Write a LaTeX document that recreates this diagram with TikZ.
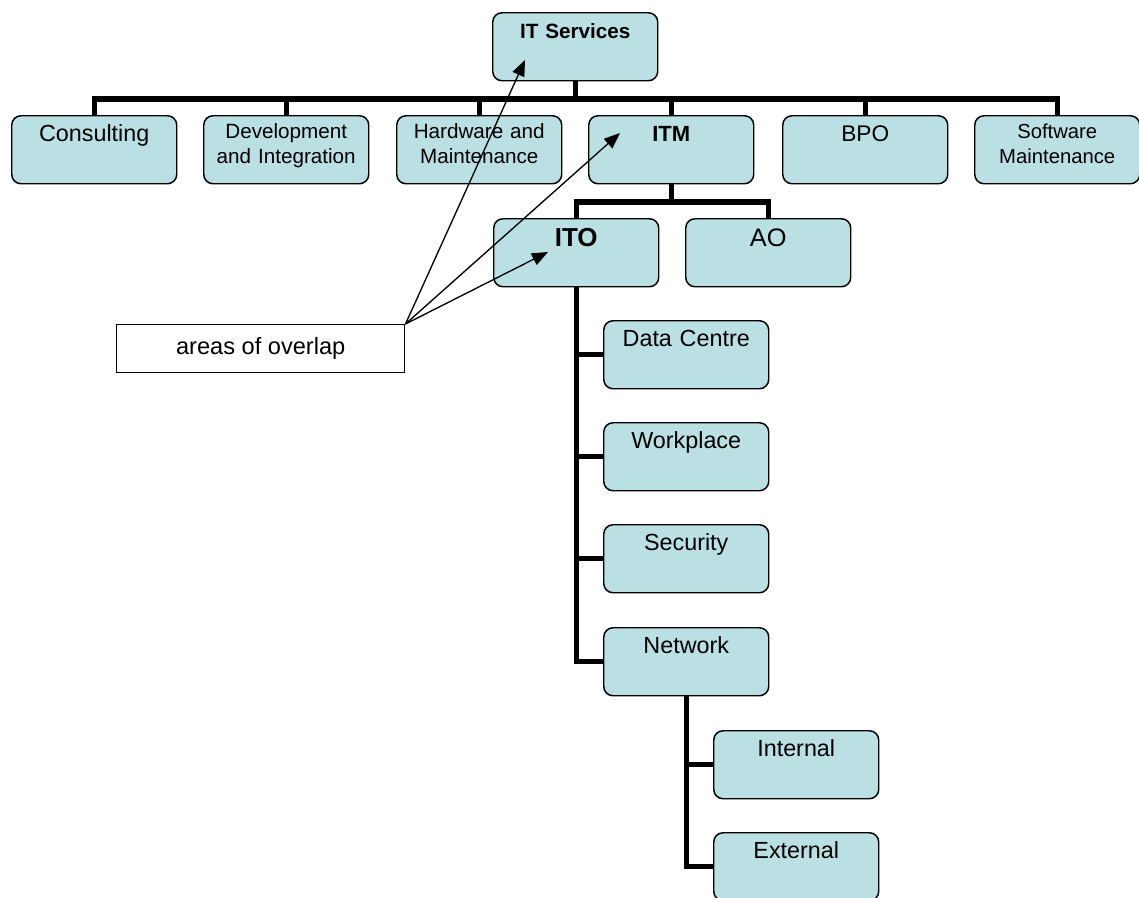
\documentclass[tikz,border=0pt]{standalone}
\usepackage{fontspec}
\setmainfont{Liberation Sans}
\usetikzlibrary{arrows.meta}
\definecolor{boxfill}{RGB}{186,224,228}

\begin{document}
\begin{tikzpicture}[
    x=0.75pt, y=-0.75pt,
    box/.style={draw, line width=1.1pt, rounded corners=7pt, fill=boxfill,
                anchor=north west, minimum width=123.75pt, minimum height=51pt,
                text width=114pt, inner xsep=4.875pt, inner ysep=0pt,
                align=center, text height=19.5pt, text depth=31.5pt},
    twoline/.style={text height=16.9pt, text depth=34.1pt},
    fsize/.style 2 args={font=\fontsize{#1pt}{#2pt}\selectfont},
    link/.style={line width=4pt},
    pointer/.style={-{Triangle[length=12pt, width=9.5pt]}, line width=1pt},
    note/.style={draw, line width=1.1pt, fill=white, anchor=north west,
                 minimum width=216pt, minimum height=36pt},
]
    \useasboundingbox (0, 0) rectangle (1139, 897);

    \node[box, fsize={15.5}{18}] (itserv) at (492, 12) {\bfseries IT Services};
    \node[box, fsize={17.5}{21}] (consult) at (11, 115) {Consulting};
    \node[box, twoline, fsize={15.5}{19.2}] (devint) at (203, 115)
        {Development\\and Integration};
    \node[box, twoline, fsize={15.5}{19.2}] (hwmaint) at (396, 115)
        {Hardware and\\Maintenance};
    \node[box, fsize={16.5}{20}] (itm) at (588, 115) {\bfseries ITM};
    \node[box, fsize={17}{20}] (bpo) at (782, 115) {BPO};
    \node[box, twoline, fsize={15.2}{19}] (swmaint) at (974, 115)
        {Software\\Maintenance};
    \node[box, fsize={19.5}{23}, text height=20.5pt, text depth=30.5pt]
        (ito) at (493, 218) {\bfseries ITO};
    \node[box, fsize={19}{23}, text height=20.5pt, text depth=30.5pt]
        (ao) at (685, 218) {AO};
    \node[box, fsize={17.5}{21}] (datac) at (603, 320) {Data Centre};
    \node[box, fsize={17.5}{21}] (workplace) at (603, 422) {Workplace};
    \node[box, fsize={17.5}{21}] (security) at (603, 524) {Security};
    \node[box, fsize={17.5}{21}] (network) at (603, 627) {Network};
    \node[box, fsize={17.5}{21}] (internal) at (713, 730) {Internal};
    \node[box, fsize={17.5}{21}] (external) at (713, 832) {External};

    \foreach \kid in {consult, devint, hwmaint, itm, bpo, swmaint}
        \draw[link] (itserv.south) -- ++(0, 17.5) -| (\kid.north);
    \foreach \kid in {ito, ao}
        \draw[link] (itm.south) -- ++(0, 17.5) -| (\kid.north);
    \foreach \kid in {datac, workplace, security, network}
        \draw[link] (ito.south) |- (\kid.west);
    \foreach \kid in {internal, external}
        \draw[link] (network.south) |- (\kid.west);

    % overlap callout
    \node[note, fsize={17.7}{21}] (overlap) at (116, 324) {areas of overlap};
    \coordinate (servtip) at (525, 60);
    \coordinate (itmtip) at (620, 133);
    \coordinate (itotip) at (548, 252);
    \foreach \tip in {servtip, itmtip, itotip}
        \draw[pointer] (overlap.north east) -- (\tip);
\end{tikzpicture}
\end{document}
